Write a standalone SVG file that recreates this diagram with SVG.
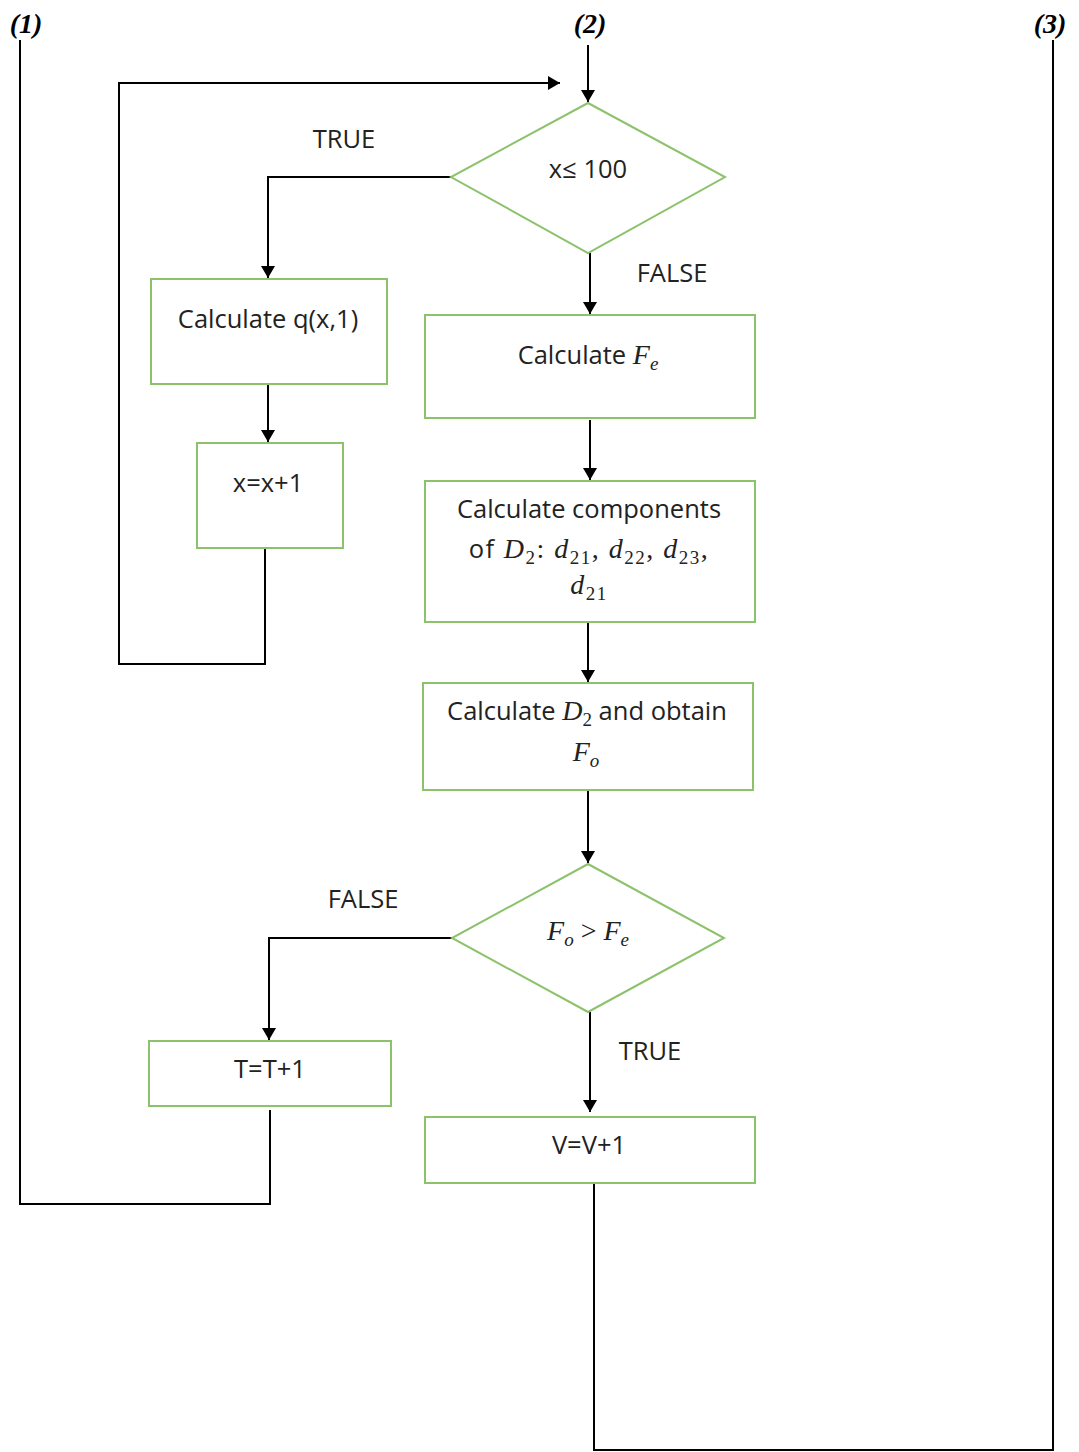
<svg xmlns="http://www.w3.org/2000/svg" width="1079" height="1452" viewBox="0 0 1079 1452">
<style>
.box{fill:#fff;stroke:#8cc26c;stroke-width:2}
.ln{fill:none;stroke:#000;stroke-width:2}
.t{font-family:"Open Sans","Liberation Sans",sans-serif;font-size:25.5px;fill:#222;text-anchor:middle}
.m{font-family:"Liberation Serif",serif;font-style:italic;font-size:28px}
.p{font-family:"Liberation Serif",serif;font-size:28px}
.s{font-family:"Liberation Serif",serif;font-size:19px}
.si{font-family:"Liberation Serif",serif;font-style:italic;font-size:19px}
.wide{letter-spacing:1.5px}
.lab{font-family:"Liberation Serif",serif;font-style:italic;font-weight:bold;font-size:28px;fill:#000;text-anchor:middle}
</style>
<defs>
<marker id="ah" markerWidth="12" markerHeight="14" refX="12" refY="7" orient="auto" markerUnits="userSpaceOnUse">
<path d="M0,0 L12,7 L0,14 z" fill="#000"/>
</marker>
</defs>
<g id="labels">
<text class="lab" x="26" y="33">(1)</text>
<text class="lab" x="590" y="33">(2)</text>
<text class="lab" x="1050" y="33">(3)</text>
<text class="t" x="344" y="148">TRUE</text>
<text class="t" x="672" y="282">FALSE</text>
<text class="t" x="363" y="908">FALSE</text>
<text class="t" x="650" y="1060">TRUE</text>
</g>
<g id="connectors">
<path class="ln" d="M588,45 V102" marker-end="url(#ah)"/>
<path class="ln" d="M20,40 V1204 H270 V1110"/>
<path class="ln" d="M1053,40 V1450 H594 V1183"/>
<path class="ln" d="M265,549 V664 H119 V83 H560" marker-end="url(#ah)"/>
<path class="ln" d="M451,177 H268 V278" marker-end="url(#ah)"/>
<path class="ln" d="M268,385 V442" marker-end="url(#ah)"/>
<path class="ln" d="M590,253 V314" marker-end="url(#ah)"/>
<path class="ln" d="M590,420 V480" marker-end="url(#ah)"/>
<path class="ln" d="M588,623 V682" marker-end="url(#ah)"/>
<path class="ln" d="M588,791 V863" marker-end="url(#ah)"/>
<path class="ln" d="M452,938 H269 V1040" marker-end="url(#ah)"/>
<path class="ln" d="M590,1012 V1112" marker-end="url(#ah)"/>
</g>
<g id="d1">
<polygon class="box" points="588,103 725,177 588,253 451,177"/>
<text class="t" x="588" y="178">x≤ 100</text>
</g>
<g id="n-q">
<rect class="box" x="151" y="279" width="236" height="105"/>
<text class="t" x="268" y="328">Calculate q(x,1)</text>
</g>
<g id="n-x">
<rect class="box" x="197" y="443" width="146" height="105"/>
<text class="t" x="268" y="492">x=x+1</text>
</g>
<g id="n-fe">
<rect class="box" x="425" y="315" width="330" height="103"/>
<text class="t" x="588" y="364">Calculate <tspan class="m">F</tspan><tspan class="si" dy="6">e</tspan></text>
</g>
<g id="n-comp">
<rect class="box" x="425" y="481" width="330" height="141"/>
<text class="t" x="589" y="518">Calculate components</text>
<text class="t wide" x="589" y="558">of <tspan class="m">D</tspan><tspan class="s" dy="6">2</tspan><tspan class="p" dy="-6">: </tspan><tspan class="m">d</tspan><tspan class="s" dy="6">21</tspan><tspan class="p" dy="-6">, </tspan><tspan class="m">d</tspan><tspan class="s" dy="6">22</tspan><tspan class="p" dy="-6">, </tspan><tspan class="m">d</tspan><tspan class="s" dy="6">23</tspan><tspan class="p" dy="-6">,</tspan></text>
<text class="t wide" x="589" y="594"><tspan class="m">d</tspan><tspan class="s" dy="6">21</tspan></text>
</g>
<g id="n-d2">
<rect class="box" x="423" y="683" width="330" height="107"/>
<text class="t" x="587" y="720">Calculate <tspan class="m">D</tspan><tspan class="s" dy="6">2</tspan><tspan dy="-6"> and obtain</tspan></text>
<text class="t" x="586" y="761"><tspan class="m">F</tspan><tspan class="si" dy="6">o</tspan></text>
</g>
<g id="d2">
<polygon class="box" points="588,864 724,938 588,1012 452,938"/>
<text class="t" x="588" y="940"><tspan class="m">F</tspan><tspan class="si" dy="6">o</tspan><tspan class="p" dy="-6"> &gt; </tspan><tspan class="m">F</tspan><tspan class="si" dy="6">e</tspan></text>
</g>
<g id="n-t">
<rect class="box" x="149" y="1041" width="242" height="65"/>
<text class="t" x="270" y="1078">T=T+1</text>
</g>
<g id="n-v">
<rect class="box" x="425" y="1117" width="330" height="66"/>
<text class="t" x="589" y="1154">V=V+1</text>
</g>
</svg>
